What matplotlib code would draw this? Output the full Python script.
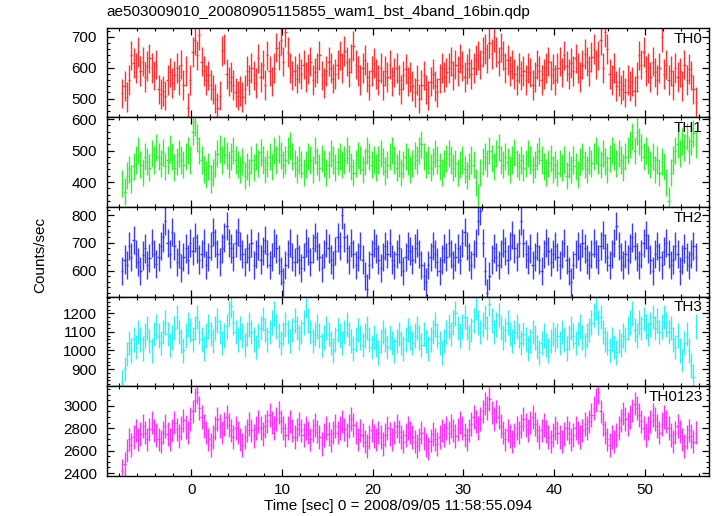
import numpy as np
import matplotlib
matplotlib.use("Agg")
import matplotlib.pyplot as plt
from matplotlib.ticker import MultipleLocator, AutoMinorLocator

plt.rcParams['font.family'] = ['Liberation Sans', 'DejaVu Sans']

# bin width 0.25 s, first bin centre
t_start = -7.625
bin_w = 0.25

th0 = [
    517, 540, 505, 560, 640, 615, 600, 650, 590, 620, 570, 605, 630, 600, 575, 610,
    530, 515, 525, 510, 560, 585, 550, 575, 600, 560, 610, 545, 590, 470, 560, 650,
    690, 640, 705, 620, 590, 560, 575, 545, 530, 500, 470, 510, 655, 660, 580, 555,
    570, 545, 520, 510, 525, 505, 530, 590, 560, 600, 575, 550, 630, 570, 610, 545,
    640, 590, 555, 600, 665, 640, 690, 620, 715, 650, 600, 575, 590, 565, 600, 580,
    610, 570, 595, 620, 560, 585, 600, 640, 575, 550, 590, 620, 600, 565, 580, 610,
    640, 600, 655, 620, 585, 630, 670, 610, 590, 560, 600, 625, 570, 545, 590, 615,
    580, 560, 600, 545, 590, 570, 610, 555, 585, 600, 560, 530, 575, 595, 555, 570,
    540, 520, 560, 500, 545, 575, 530, 510, 555, 580, 540, 520, 565, 600, 570, 585,
    600, 620, 575, 610, 590, 630, 605, 570, 595, 615, 580, 600, 625, 640, 610, 650,
    660, 630, 680, 645, 700, 650, 620, 665, 640, 600, 625, 590, 610, 580, 560, 600,
    575, 590, 560, 600, 585, 545, 570, 610, 590, 560, 580, 600, 620, 575, 595, 560,
    600, 620, 585, 640, 605, 580, 615, 590, 630, 600, 570, 610, 645, 620, 590, 635,
    660, 610, 640, 690, 600, 715, 660, 580, 560, 600, 540, 555, 530, 545, 520, 560,
    540, 555, 525, 570, 640, 610, 650, 590, 600, 570, 620, 585, 560, 600, 700, 580,
    610, 560, 590, 545, 600, 570, 585, 540, 610, 560, 595, 575, 530, 490,
]

th1 = [
    395, 370, 420, 440, 410, 450, 470, 500, 455, 430, 480, 465, 445, 490, 470, 510,
    480, 460, 495, 450, 470, 505, 480, 445, 465, 490, 470, 455, 480, 500, 470, 560,
    590, 540, 500, 470, 440, 425, 450, 410, 430, 460, 490, 505, 470, 500, 485, 455,
    480, 500, 470, 455, 440, 465, 420, 450, 430, 470, 445, 480, 460, 495, 470, 440,
    460, 480, 450, 500, 470, 505, 485, 455, 470, 500, 515, 480, 460, 440, 470, 455,
    430, 455, 480, 470, 440, 500, 465, 445, 475, 460, 430, 455, 490, 470, 445, 465,
    480, 455, 470, 500, 475, 450, 430, 460, 485, 470, 440, 465, 500, 480, 455, 470,
    445, 470, 490, 465, 435, 455, 480, 500, 470, 445, 460, 430, 455, 480, 465, 440,
    460, 485, 470, 500, 520, 480, 455, 470, 445, 465, 490, 470, 450, 430, 460, 475,
    490, 470, 445, 460, 430, 455, 470, 440, 420, 450, 470, 455, 400, 350, 430, 465,
    480, 460, 500, 475, 450, 490, 510, 470, 455, 480, 465, 440, 470, 495, 460, 450,
    470, 445, 460, 490, 470, 440, 455, 480, 500, 470, 450, 430, 460, 475, 440, 455,
    430, 460, 445, 470, 420, 455, 440, 470, 450, 425, 465, 480, 455, 440, 470, 460,
    480, 500, 470, 455, 490, 465, 440, 475, 500, 480, 460, 490, 470, 445, 480, 500,
    520, 545, 500, 560, 530, 510, 480, 500, 470, 455, 480, 440, 470, 430, 465, 450,
    400, 340, 430, 470, 500, 520, 490, 530, 510, 545, 500, 530, 555, 520,
]

th2 = [
    600, 640, 620, 690, 650, 710, 660, 630, 600, 655, 680, 620, 645, 700, 660, 625,
    650, 690, 720, 780, 700, 660, 740, 690, 630, 660, 610, 650, 680, 640, 700, 670,
    720, 680, 640, 660, 700, 620, 650, 690, 740, 700, 660, 630, 680, 720, 760, 700,
    680, 650, 700, 740, 690, 660, 630, 680, 650, 700, 620, 660, 690, 640, 670, 710,
    660, 620, 650, 700, 680, 640, 600, 560, 620, 660, 700, 650, 630, 680, 640, 610,
    650, 700, 670, 630, 680, 720, 690, 650, 610, 660, 700, 680, 640, 620, 670, 720,
    690, 800, 720, 680, 640, 700, 660, 620, 650, 690, 640, 580, 535, 620, 660, 700,
    680, 640, 610, 650, 690, 660, 700, 640, 620, 660, 680, 630, 600, 650, 690, 670,
    640, 680, 700, 660, 620, 580, 560, 620, 650, 690, 660, 630, 600, 640, 680, 650,
    700, 660, 620, 650, 680, 640, 700, 740, 690, 650, 620, 660, 700, 780, 815, 700,
    600, 520, 580, 640, 680, 650, 620, 660, 700, 670, 640, 690, 730, 680, 650, 700,
    780, 700, 660, 640, 680, 620, 650, 690, 640, 600, 660, 700, 670, 630, 660, 690,
    650, 620, 660, 700, 640, 600, 560, 620, 660, 690, 650, 700, 680, 640, 620, 660,
    700, 660, 640, 690, 730, 680, 650, 620, 660, 700, 760, 690, 650, 620, 660, 640,
    680, 720, 690, 650, 620, 660, 700, 730, 680, 640, 600, 660, 690, 650, 620, 670,
    700, 660, 620, 640, 690, 660, 600, 640, 680, 650, 620, 660, 690, 650,
]

th3 = [
    830, 900, 980, 1040, 1000, 1060, 1020, 1100, 1060, 1010, 1080, 1120, 1050, 1000, 1090, 1130,
    1080, 1040, 1100, 1150, 1090, 1030, 1070, 1120, 1180, 1100, 1050, 1000, 1080, 1140, 1110, 1060,
    1120, 1180, 1100, 1060, 1010, 1080, 1130, 1090, 1050, 1120, 1160, 1100, 1040, 1080, 1130, 1200,
    1240, 1150, 1100, 1060, 1120, 1080, 1030, 1090, 1140, 1100, 1060, 1020, 1080, 1120, 1170, 1110,
    1060, 1100, 1150, 1200, 1130, 1080, 1040, 1090, 1140, 1100, 1050, 1110, 1160, 1120, 1070, 1100,
    1150, 1240, 1160, 1100, 1050, 1090, 1130, 1080, 1030, 1070, 1120, 1090, 1040, 1000, 1060, 1110,
    1080, 1040, 1100, 1140, 1090, 1050, 1010, 1060, 1110, 1070, 1030, 1080, 1120, 1060, 1020, 1070,
    1030, 990, 1050, 1100, 1060, 1020, 1070, 1040, 1000, 1050, 1090, 1040, 1010, 1060, 1110, 1070,
    1040, 1080, 1120, 1070, 1030, 1090, 1050, 1010, 1060, 1100, 1140, 1080, 1040, 990, 1050, 1100,
    1130, 1090, 1150, 1200, 1120, 1080, 1130, 1180, 1120, 1070, 1110, 1160, 1230, 1150, 1100, 1140,
    1180, 1120, 1250, 1160, 1100, 1140, 1190, 1120, 1070, 1110, 1150, 1090, 1050, 1100, 1130, 1080,
    1040, 1090, 1060, 1010, 1050, 1100, 1070, 1020, 990, 1040, 1080, 1030, 1000, 1050, 1090, 1060,
    1080, 1040, 1100, 1060, 1010, 1070, 1120, 1080, 1040, 1090, 1130, 1070, 1030, 1080, 1110, 1150,
    1190, 1230, 1150, 1180, 1100, 1060, 1040, 1000, 1060, 1020, 990, 1050, 1030, 1080, 1060, 1120,
    1150, 1200, 1110, 1080, 1150, 1120, 1170, 1130, 1090, 1140, 1180, 1120, 1160, 1100, 1130, 1180,
    1140, 1100, 1120, 1060, 1020, 1080, 1000, 950, 1040, 1090, 1000, 920, 860, 1130,
]

th0123 = [
    2420, 2480, 2600, 2700, 2650, 2720, 2780, 2700, 2750, 2820, 2760, 2700, 2790, 2850, 2780, 2740,
    2700, 2680, 2760, 2820, 2750, 2700, 2780, 2850, 2790, 2730, 2800, 2870, 2810, 2760, 2880, 2950,
    3050, 3120, 2980, 2900, 2820, 2760, 2700, 2650, 2720, 2800, 2880, 2820, 2760, 2840, 2900, 2830,
    2780, 2720, 2800, 2760, 2700, 2650, 2720, 2780, 2840, 2780, 2730, 2800, 2860, 2800, 2750, 2820,
    2860, 2920, 2850, 2800, 2880, 2940, 2860, 2800, 2740, 2800, 2860, 2780, 2720, 2790, 2840, 2780,
    2740, 2800, 2760, 2700, 2780, 2830, 2770, 2720, 2660, 2740, 2800, 2750, 2690, 2760, 2820, 2760,
    2800, 2860, 2790, 2740, 2820, 2880, 2830, 2760, 2700, 2780, 2740, 2680, 2640, 2720, 2780, 2730,
    2700, 2760, 2720, 2660, 2740, 2800, 2750, 2700, 2760, 2820, 2770, 2720, 2680, 2740, 2800, 2760,
    2720, 2680, 2640, 2700, 2760, 2710, 2650, 2620, 2690, 2750, 2700, 2660, 2720, 2780, 2740, 2800,
    2760, 2820, 2780, 2730, 2790, 2850, 2800, 2740, 2700, 2780, 2840, 2900, 2860, 2800, 2880, 2950,
    3020, 2980, 3060, 2940, 2880, 2950, 2900, 2820, 2760, 2700, 2780, 2730, 2680, 2740, 2800, 2760,
    2820, 2880, 2830, 2780, 2850, 2900, 2840, 2780, 2720, 2780, 2830, 2770, 2720, 2680, 2740, 2800,
    2760, 2720, 2680, 2750, 2800, 2760, 2700, 2740, 2800, 2760, 2720, 2780, 2840, 2800, 2860, 2920,
    2980, 3050, 3120, 2950, 2840, 2760, 2700, 2650, 2720, 2680, 2740, 2800, 2870, 2930, 2880, 2840,
    2900, 2960, 3020, 2980, 2920, 2860, 2800, 2740, 2800, 2860, 2920, 2880, 2820, 2760, 2840, 2900,
    2860, 2800, 2740, 2680, 2760, 2820, 2770, 2700, 2640, 2720, 2780, 2730, 2680, 2760,
]

# typical 1-sigma error per band (counts/sec)
errors = [48, 43, 51, 66, 105]
names = ['TH0', 'TH1', 'TH2', 'TH3', 'TH0123']
colors = ['#ff3333', '#33f033', '#3b3bff', '#33f0f0', '#ff33ff']
ylims = [(439, 729), (321, 605), (506, 830), (808, 1290), (2376, 3175)]
ymajor = [100, 100, 100, 100, 200]
yminor = [5, 5, 5, 5, 4]
series = [th0, th1, th2, th3, th0123]

fig, axes = plt.subplots(5, 1, sharex=True, figsize=(7.17, 5.16), dpi=100)
fig.subplots_adjust(left=0.149, right=0.989, top=0.946, bottom=0.078, hspace=0)

for ax, vals, err, name, col, yl, maj, mnr in zip(axes, series, errors, names, colors,
                                                   ylims, ymajor, yminor):
    vals = np.array(vals, dtype=float)
    t = t_start + bin_w * np.arange(len(vals))
    ax.errorbar(t, vals, xerr=bin_w / 2, yerr=err, fmt='none', ecolor=col,
                elinewidth=1.0, capsize=0)
    ax.set_ylim(*yl)
    ax.yaxis.set_major_locator(MultipleLocator(maj))
    ax.yaxis.set_minor_locator(AutoMinorLocator(mnr))
    ax.text(0.9895, 0.88, name, transform=ax.transAxes, ha='right', va='center',
            fontsize=11)
    ax.tick_params(which='both', direction='in', top=True, right=True, labelsize=11)
    ax.tick_params(which='major', length=5, width=0.9)
    ax.tick_params(which='minor', length=2.5, width=0.8)
    ax.tick_params(axis='y', pad=7)
    ax.tick_params(axis='x', pad=5)
    for s in ax.spines.values():
        s.set_linewidth(1.0)

axes[-1].set_xlim(-9.33, 57.1)
axes[-1].xaxis.set_major_locator(MultipleLocator(10))
axes[-1].xaxis.set_minor_locator(AutoMinorLocator(5))

fig.text(0.149, 1 - 12 / 516, 'ae503009010_20080905115855_wam1_bst_4band_16bin.qdp',
         ha='left', va='center', fontsize=11)
fig.text(0.056, 0.505, 'Counts/sec', rotation=90, ha='center', va='center', fontsize=11)
fig.text(0.555, 1 - 506 / 516, 'Time [sec] 0 = 2008/09/05 11:58:55.094',
         ha='center', va='center', fontsize=11)

fig.savefig('out.png', dpi=100)
